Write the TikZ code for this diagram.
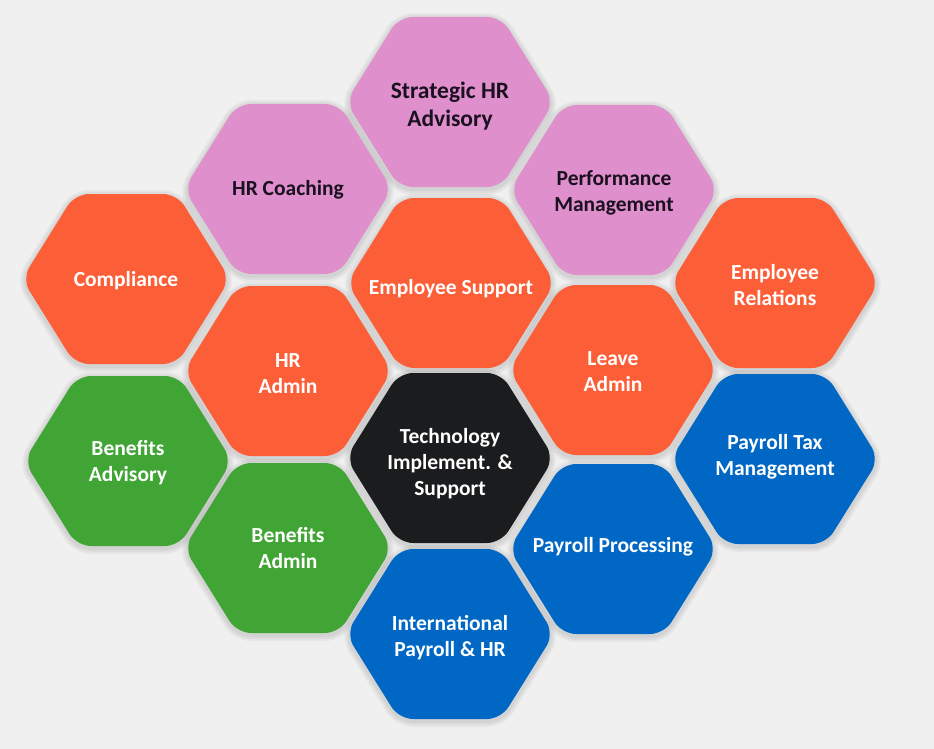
\documentclass[tikz,border=0pt]{standalone}
\usepackage{fontspec}
\setmainfont{Carlito}
\definecolor{bgc}{HTML}{F0F0F0}
\definecolor{pinkc}{HTML}{DF8FCB}
\definecolor{orangec}{HTML}{FC5E37}
\definecolor{greenc}{HTML}{40A535}
\definecolor{bluec}{HTML}{0067C4}
\definecolor{darkc}{HTML}{1B1C1E}
\definecolor{inkc}{HTML}{1A1020}
\pgfdeclarelayer{back}
\pgfdeclarelayer{halo}
\pgfsetlayers{back,halo,main}
\tikzset{
  lbl/.style={align=center, font=\fontsize{21.5}{26}\selectfont\bfseries, inner sep=0pt},
  bigger/.style={font=\fontsize{23.5}{28}\selectfont\bfseries},
  hexshade/.style={draw=black, opacity=0.04, line join=round, rounded corners=14pt},
  hexfill/.style={rounded corners=14pt},
}
% name, x, y, fill, label style, text, text y offset
\newcommand\hexcell[7]{%
  \begin{scope}[shift={(#2,#3)}]
    \begin{pgfonlayer}{halo}
      \foreach \w in {12,8,4} {\draw[hexshade, line width=\w pt] (0,-83) -- (51,-83) -- (104,2) -- (51,87) -- (-51,87) -- (-104,2) -- (-51,-83) -- cycle;}
    \end{pgfonlayer}
    \fill[hexfill, #4] (0,-85) -- (51,-85) -- (104,0) -- (51,85) -- (-51,85) -- (-104,0) -- (-51,-85) -- cycle;
    \node[lbl, #5] (#1) at (0,#7) {#6};
  \end{scope}}
\begin{document}
\begin{tikzpicture}[x=1pt,y=-1pt]
\begin{pgfonlayer}{back}
\fill[bgc] (0,0) rectangle (934,749);
\end{pgfonlayer}
\useasboundingbox (0,0) rectangle (934,749);
\hexcell{strat}{450}{102}{pinkc}{text=inkc, bigger}{Strategic HR\\Advisory}{4}
\hexcell{coach}{288}{189}{pinkc}{text=inkc}{HR Coaching}{1}
\hexcell{perf}{614}{190}{pinkc}{text=inkc}{Performance\\Management}{3}
\hexcell{compl}{126}{279}{orangec}{text=white}{Compliance}{2}
\hexcell{empsup}{451}{283}{orangec}{text=white}{Employee Support}{6}
\hexcell{emprel}{775}{283}{orangec}{text=white}{Employee\\Relations}{2}
\hexcell{hradmin}{288}{371}{orangec}{text=white}{HR\\Admin}{2.5}
\hexcell{leave}{613}{370}{orangec}{text=white}{Leave\\Admin}{2}
\hexcell{benadv}{128}{461}{greenc}{text=white}{Benefits\\Advisory}{2}
\hexcell{tech}{450}{458}{darkc}{text=white}{Technology\\Implement. \&\\Support}{5.5}
\hexcell{paytax}{775}{459}{bluec}{text=white}{Payroll Tax\\Management}{-2}
\hexcell{benadm}{288}{548}{greenc}{text=white}{Benefits\\Admin}{0}
\hexcell{payproc}{613}{549}{bluec}{text=white}{Payroll Processing}{-2}
\hexcell{intl}{450}{634}{bluec}{text=white}{International\\Payroll \& HR}{3.5}
\end{tikzpicture}
\end{document}
